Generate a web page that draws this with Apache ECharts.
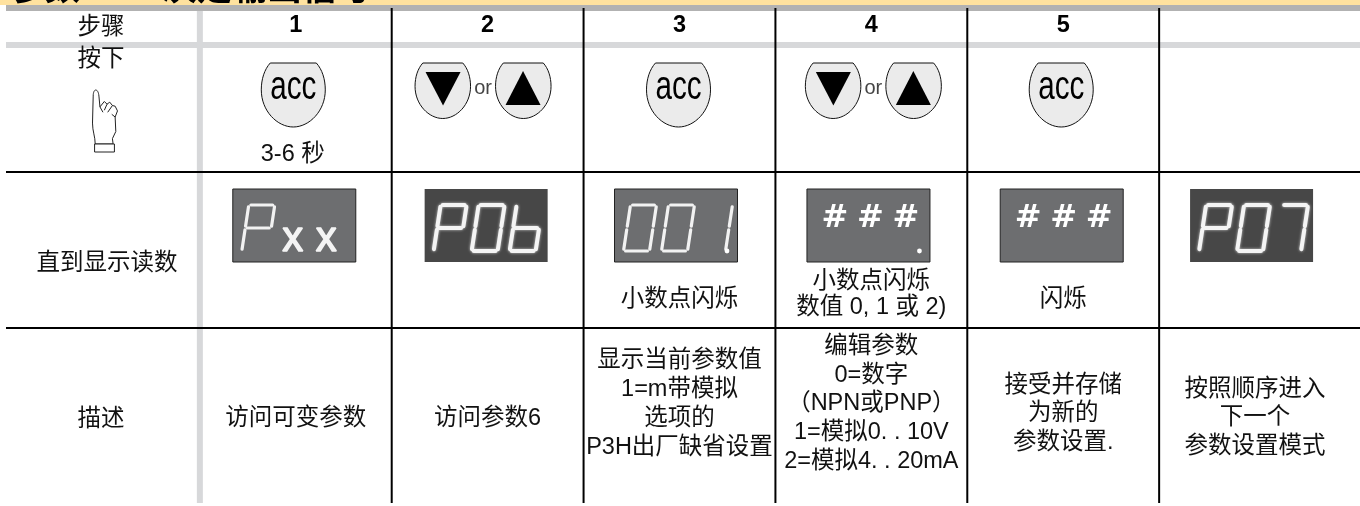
<!DOCTYPE html>
<html lang="zh-CN">
<head>
<meta charset="UTF-8">
<title>参数设置步骤</title>
<script src="https://cdn.jsdelivr.net/npm/echarts@6/dist/echarts.min.js"></script>
<style>
  html, body { margin: 0; padding: 0; background: #fff; }
  #main { width: 1360px; height: 506px; }
</style>
</head>
<body>
<div id="main"></div>
<script>
// 表格内容
const titleParts = ['参数', '决定输出信号'];
const rowNames = ['步骤', '按下', '直到显示读数', '描述'];
const steps = ['1', '2', '3', '4', '5', ''];
const pressKeys = ['acc', 'arrows', 'acc', 'arrows', 'acc', ''];
const pressNotes = ['3-6 秒', '', '', '', '', ''];
const readings = ['Pxx', 'P06', '001.', '###.', '###', 'P07'];
const readingNotes = [[], [], ['小数点闪烁'], ['小数点闪烁', '数值 0, 1 或 2)'], ['闪烁'], []];
const descriptions = [
  ['访问可变参数'],
  ['访问参数6'],
  ['显示当前参数值', '1=m带模拟', '选项的', 'P3H出厂缺省设置'],
  ['编辑参数', '0=数字', '（NPN或PNP）', '1=模拟0. . 10V', '2=模拟4. . 20mA'],
  ['接受并存储', '为新的', '参数设置.'],
  ['按照顺序进入', '下一个', '参数设置模式']
];

const FONT = '"Liberation Sans","Noto Sans CJK SC",sans-serif';
const bodyFont = '23.5px ' + FONT;
const BLACK = '#000';
const BAND = '#d7d8da';
const KEY_FILL = '#ebebeb';
// 按键、显示框、描述文字的微调
const keyShift = [-2.5, -4.6, -1, 2, -2, 0];
const boxShift = [0, 0, -2, -1.4, 0, -2];
const descMiddle = [419, 419, 404, 404, 414, 418];

// 七段显示
const SEGMENTS = {
  P: 'abefg', '0': 'abcdef', '1': 'bc', '6': 'cdefg', '7': 'abc'
};
const SEG_LINES = {
  a: [[0, 0], [1, 0]], b: [[1, 0], [1, .5]], c: [[1, .5], [1, 1]],
  d: [[0, 1], [1, 1]], e: [[0, .5], [0, 1]], f: [[0, 0], [0, .5]], g: [[0, .5], [1, .5]]
};
const KEY_PATH = 'M14 0L86 0C95 10 100 25 100 42C100 75 75 100 50 100C25 100 0 75 0 42C0 25 5 10 14 0Z';
const HAND_PATH = 'M213 432C213 410 205 395 205 370L207 290C207 266 222 266 224 290L227 322L240 306L248 314L256 308L264 318L272 320L279 334L272 352L274 395L264 416L266 432Z'
  + 'M227 322L236 338M248 314L240 332M264 318L250 338M272 352L262 344';
const CUFF_PATH = 'M213 432L270 432L270 455L213 455Z';

function text(str, x, y, opts) {
  return {
    type: 'text',
    style: Object.assign({
      text: str, x: x, y: y, font: bodyFont, fill: '#111',
      align: 'center', verticalAlign: 'middle'
    }, opts || {})
  };
}
function rect(x, y, w, h, fill, extra) {
  return { type: 'rect', shape: { x: x, y: y, width: w, height: h }, style: Object.assign({ fill: fill }, extra || {}) };
}
function line(x1, y1, x2, y2) {
  return { type: 'line', shape: { x1: x1, y1: y1, x2: x2, y2: y2 }, style: { stroke: BLACK, lineWidth: 2 } };
}
function shape(path, x, y, w, h, style) {
  return { type: 'path', shape: { pathData: path, x: x, y: y, width: w, height: h }, style: style };
}

function renderKey(kind, cx, out) {
  const keyStyle = { fill: KEY_FILL, stroke: '#111', lineWidth: 1 };
  if (kind === 'acc') {
    out.push(shape(KEY_PATH, cx - 39.5, 63, 79, 64, keyStyle));
    // acc 字样在原图里偏瘦高
    const label = text('acc', 0, 0, { font: '40px ' + FONT, fill: '#000' });
    label.x = cx; label.y = 88; label.scaleX = 0.74;
    out.push(label);
  } else if (kind === 'arrows') {
    const left = cx - 70, right = cx + 10.5;
    out.push(shape(KEY_PATH, left, 63, 59.5, 55.5, keyStyle));
    out.push(shape(KEY_PATH, right, 63, 59.5, 55.5, keyStyle));
    out.push({ type: 'polygon', shape: { points: [[left + 12.5, 72], [left + 47.5, 72], [left + 30, 105.5]] }, style: { fill: '#000' } });
    out.push({ type: 'polygon', shape: { points: [[right + 12, 105], [right + 47, 105], [right + 29.5, 71]] }, style: { fill: '#000' } });
    out.push(text('or', cx, 88, { font: '20px ' + FONT, fill: '#444' }));
  }
}

function renderDigit(ch, x, y, w, h, slant, style, out) {
  (SEGMENTS[ch] || '').split('').forEach(function (seg) {
    const pts = SEG_LINES[seg].map(function (p) {
      return [x + p[0] * w + slant * (1 - p[1]), y + p[1] * h];
    });
    // 每段两端留一点缝
    const dx = (pts[1][0] - pts[0][0]) * 0.08, dy = (pts[1][1] - pts[0][1]) * 0.08;
    out.push({
      type: 'line',
      shape: { x1: pts[0][0] + dx, y1: pts[0][1] + dy, x2: pts[1][0] - dx, y2: pts[1][1] - dy },
      style: style
    });
  });
}

function renderReading(str, bx, out) {
  const photo = str === 'P06' || str === 'P07';
  out.push(rect(bx, 189, 123, 73, photo ? '#474747' : '#6d6e70', photo ? {} : { stroke: '#222', lineWidth: 1 }));
  const segStyle = photo
    ? { stroke: '#f4f4f4', lineWidth: 4, lineCap: 'round', shadowBlur: 3, shadowColor: 'rgba(255,255,255,.7)' }
    : { stroke: '#f2f2f2', lineWidth: 3.2, lineCap: 'round' };
  if (str[0] === '#') {
    for (let i = 0; i < 3; i++) {
      out.push(text('#', bx + 28 + i * 35.5, 219, { font: 'bold 32px "DejaVu Sans"', fill: '#fff' }));
    }
  } else {
    const chars = str.replace('.', '').split('');
    chars.forEach(function (ch, i) {
      if (ch === 'x') {
        out.push(text('x', bx + 60 + (i - 1) * 33.5, 239, { font: '42px ' + FONT, fill: '#f4f4f4', stroke: '#f4f4f4', lineWidth: 1.4 }));
      } else {
        renderDigit(ch, bx + 9 + i * 38, 205, 26, 46, 7, segStyle, out);
      }
    });
  }
  if (str.indexOf('.') >= 0) {
    out.push({ type: 'circle', shape: { cx: bx + 112.5, cy: 251, r: 2.4 }, style: { fill: '#fff' } });
  }
}

// 每列内容，x 轴以列为单位
function renderCol(params, api) {
  const col = api.value(0);
  const out = [];
  const X = function (v) { return api.coord([v, 0])[0]; };
  const Y = function (v) { return api.coord([0, v])[1]; };
  const cx = X(col + 0.5);
  if (col === 0) {
    out.push(text(rowNames[0], 101, Y(28), {}));
    out.push(text(rowNames[1], 101, Y(60), {}));
    out.push(text(rowNames[2], 107, Y(264), {}));
    out.push(text(rowNames[3], 101, Y(420), {}));
    out.push(shape(HAND_PATH, 89, 90, 32, 54, { fill: 'none', stroke: '#222', lineWidth: 1 }));
    out.push(shape(CUFF_PATH, 92, 144, 25, 8, { fill: '#fff', stroke: '#222', lineWidth: 1 }));
    return { type: 'group', children: out };
  }
  const i = col - 1;
  out.push(text(steps[i], cx, Y(26), { font: 'bold 23.5px ' + FONT, fill: '#000' }));
  renderKey(pressKeys[i], cx + keyShift[i], out);
  if (pressNotes[i]) out.push(text(pressNotes[i], cx - 3, Y(155), {}));
  renderReading(readings[i], cx - 63 + boxShift[i], out);
  const notes = readingNotes[i];
  notes.forEach(function (t, k) {
    const base = notes.length === 2 ? 282 : 300;
    out.push(text(t, cx, Y(base + k * 26), {}));
  });
  const desc = descriptions[i];
  const step = 28.7;
  desc.forEach(function (t, k) {
    const top = descMiddle[i] - (desc.length - 1) * step / 2;
    out.push(text(t, cx, Y(top + k * step), {}));
  });
  return { type: 'group', children: out };
}

// 底色带和网格线
function renderFrame(params, api) {
  const X = function (v) { return api.coord([v, 0])[0]; };
  const Y = function (v) { return api.coord([0, v])[1]; };
  const out = [
    rect(0, 0, 1360, Y(5), '#ffe29f'),
    rect(6, Y(42), 1354, 6, BAND),
    rect(X(1) - 3, Y(8), 6, Y(503) - Y(8), BAND)
  ];
  out.push(text(titleParts[0], 45, 8, { font: 'bold 35px ' + FONT, fill: '#000', verticalAlign: 'bottom' }));
  out.push(text(titleParts[1], 267, 8, { font: 'bold 35px ' + FONT, fill: '#000', verticalAlign: 'bottom' }));
  // 标题只露出底部，灰带盖在上面
  out.push(rect(0, Y(5), 1360, 6, '#fff'));
  out.push(rect(6, Y(5), 1354, 6, '#b2b2b2'));
  for (let c = 2; c <= 6; c++) out.push(line(X(c), Y(8), X(c), Y(503)));
  out.push(line(6, Y(172), 1360, Y(172)));
  out.push(line(6, Y(328), 1360, Y(328)));
  return { type: 'group', children: out };
}

const chart = echarts.init(document.getElementById('main'), null, { renderer: 'canvas' });
chart.setOption({
  animation: false,
  tooltip: { show: false },
  grid: { left: 8, right: 9, top: 0, bottom: 0 },
  xAxis: { type: 'value', min: 0, max: 7, show: false },
  yAxis: { type: 'value', min: 0, max: 506, inverse: true, show: false },
  series: [
    { type: 'custom', silent: true, clip: false, renderItem: renderFrame, data: [[0]], z: 1 },
    { type: 'custom', silent: true, clip: false, renderItem: renderCol, data: [[0], [1], [2], [3], [4], [5], [6]], encode: { x: 0 }, z: 2 }
  ]
});
</script>
</body>
</html>
